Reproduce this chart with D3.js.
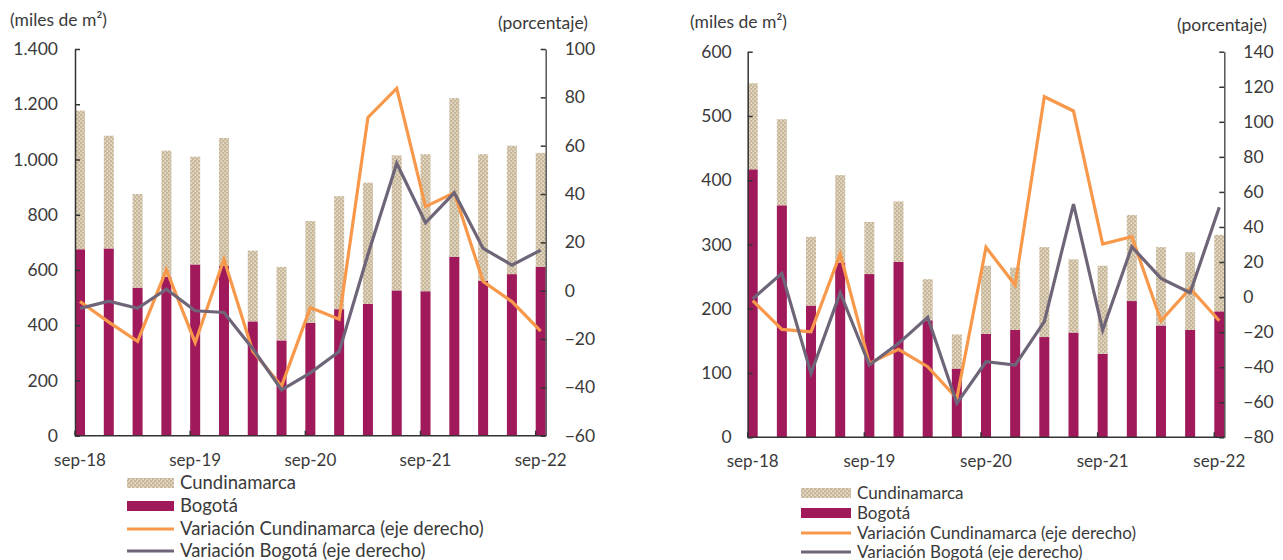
<!DOCTYPE html>
<html><head><meta charset="utf-8">
<script src="https://cdn.jsdelivr.net/npm/d3@7/dist/d3.min.js"></script>
<style>
html,body{margin:0;padding:0;background:#fff;}
text{font-family:Lato,"Open Sans",sans-serif;fill:#3a3a3a;}
</style></head>
<body><svg id="chart" width="1283" height="560"></svg>
<script>
// ---------- DATA ----------
const quarters = ["sep-18","dic-18","mar-19","jun-19","sep-19","dic-19","mar-20","jun-20","sep-20","dic-20","mar-21","jun-21","sep-21","dic-21","mar-22","jun-22","sep-22"];
const xTickLabels = ["sep-18","sep-19","sep-20","sep-21","sep-22"];

// Left panel (miles de m2, porcentaje)
const bogotaL = [675,678,536,575,620,615,414,345,409,458,477,526,523,648,561,585,611];
const cundL   = [502,408,339,457,390,463,256,266,368,409,439,489,496,574,458,465,413];
const varCundL = [-4.5,-13,-21,8.6,-21.5,13,-25,-39.5,-7,-11.8,71.7,83.7,34.8,40.5,3.8,-4.5,-16.7];
const varBogL  = [-7.3,-4.3,-7.3,0.6,-8.3,-9,-24,-41,-34,-25.2,15,52.7,28.1,40.5,17.5,10.6,16.8];
const leftTicksL = [0,200,400,600,800,1000,1200,1400];
const rightTicksL = [-60,-40,-20,0,20,40,60,80,100];

// Right panel
const bogotaR = [417,361,205,272,254,273,182,107,161,167,156,163,130,212,174,167,196];
const cundR   = [134,134,107,136,81,94,64,53,106,97,140,114,137,134,122,121,119];
const varCundR = [-2,-18.4,-19.8,24.6,-37.8,-29.8,-39.7,-57.8,28.4,6.9,114.3,106.2,30.3,34.5,-13.5,4.9,-13.5];
const varBogR  = [-1,13.6,-43.5,2.5,-38.8,-26.4,-11.5,-60.6,-36.9,-38.8,-14,53.1,-18.8,28.7,10.7,2.5,51.2];
const leftTicksR = [0,100,200,300,400,500,600];
const rightTicksR = [-80,-60,-40,-20,0,20,40,60,80,100,120,140];

const seriesNames = ["Cundinamarca","Bogotá","Variación Cundinamarca (eje derecho)","Variación Bogotá (eje derecho)"];

// ---------- STYLE ----------
const C_TAN = "#c8b798", C_MAG = "#a0195b", C_ORA = "#f8984a", C_GRY = "#6f6578";
const fmt = d3.formatLocale({decimal:",", thousands:".", grouping:[3], currency:["$",""]}).format(",d");

const svg = d3.select("#chart");
const defs = svg.append("defs");
const pat = defs.append("pattern").attr("id","dots").attr("patternUnits","userSpaceOnUse")
  .attr("width",4).attr("height",4);
pat.append("rect").attr("width",4).attr("height",4).attr("fill",C_TAN);
pat.append("rect").attr("x",0.5).attr("y",0.5).attr("width",1.3).attr("height",1.3).attr("fill","#fff").attr("opacity",0.85);
pat.append("rect").attr("x",2.5).attr("y",2.5).attr("width",1.3).attr("height",1.3).attr("fill","#fff").attr("opacity",0.85);

function drawPanel(o){
  const g = svg.append("g");
  const x = d3.scalePoint().domain(quarters).range([o.x0+5, o.x1-5]);
  const yL = d3.scaleLinear().domain(o.leftDomain).range([o.yb, o.yt]);
  const yR = d3.scaleLinear().domain(o.rightDomain).range([o.yb, o.yt]);
  const bw = 10;

  const table = quarters.map((q,i)=>({q, Bogota:o.bog[i], Cund:o.cund[i]}));
  const stack = d3.stack().keys(["Bogota","Cund"])(table);

  stack.forEach((layer,li)=>{
    g.append("g").selectAll("rect").data(layer).join("rect")
      .attr("x", d=>x(d.data.q)-bw/2).attr("width", bw)
      .attr("y", d=>yL(d[1])).attr("height", d=>yL(d[0])-yL(d[1]))
      .attr("fill", li===0 ? C_MAG : "url(#dots)");
  });

  const line = d3.line().x((d,i)=>x(quarters[i])).y(d=>yR(d));
  g.append("path").datum(o.varCund).attr("d",line).attr("fill","none")
    .attr("stroke",C_ORA).attr("stroke-width",3.2).attr("stroke-linejoin","miter");
  g.append("path").datum(o.varBog).attr("d",line).attr("fill","none")
    .attr("stroke",C_GRY).attr("stroke-width",3.2).attr("stroke-linejoin","miter");

  // axes
  const axL = g.append("g").attr("transform",`translate(${o.x0},0)`)
    .call(d3.axisLeft(yL).tickValues(o.leftTicks).tickFormat(fmt).tickSize(-5).tickSizeOuter(0).tickPadding(o.padL));
  const axR = g.append("g").attr("transform",`translate(${o.x1},0)`)
    .call(d3.axisRight(yR).tickValues(o.rightTicks).tickFormat(d3.format("d")).tickSize(-5).tickSizeOuter(0).tickPadding(o.padR));
  [axL,axR].forEach(a=>{
    a.selectAll("text").attr("font-size",17.5).attr("font-family","Lato");
    a.select(".domain").attr("stroke","#333").attr("stroke-width",1.5);
    a.selectAll(".tick line").attr("stroke","#333").attr("stroke-width",1.5);
  });
  axR.select(".domain").attr("stroke","#555");

  // x axis
  const xb = g.append("g");
  xb.append("line").attr("x1",o.x0).attr("x2",o.x1).attr("y1",o.yb).attr("y2",o.yb)
    .attr("stroke","#333").attr("stroke-width",1.5);
  xb.selectAll("line.t").data(xTickLabels).join("line").attr("class","t")
    .attr("x1",d=>x(d)-bw/2).attr("x2",d=>x(d)-bw/2).attr("y1",o.yb).attr("y2",o.yb-5)
    .attr("stroke","#333").attr("stroke-width",1.5);
  xb.selectAll("text").data(xTickLabels).join("text")
    .attr("x",d=>x(d)).attr("y",o.yb+30).attr("text-anchor","middle").attr("font-size",17)
    .text(d=>d);

  // titles
  g.append("text").attr("x",o.titleLx).attr("y",o.titleY).attr("font-size",17.5).text("(miles de m²)");
  g.append("text").attr("x",o.titleRx).attr("y",o.titleY+3).attr("font-size",17.5).attr("text-anchor","end").text("(porcentaje)");

  // legend
  const lg = g.append("g");
  seriesNames.forEach((n,i)=>{
    const yy = o.legY[i];
    if(i<2){
      lg.append("rect").attr("x",o.legX).attr("y",yy-5).attr("width",o.legW).attr("height",10)
        .attr("fill", i===0 ? "url(#dots)" : C_MAG);
    } else {
      lg.append("line").attr("x1",o.legX).attr("x2",o.legX+o.legW).attr("y1",yy).attr("y2",yy)
        .attr("stroke", i===2 ? C_ORA : C_GRY).attr("stroke-width",3);
    }
    lg.append("text").attr("x",o.legX+o.legW+6).attr("y",yy+6).attr("font-size",o.legFont).text(n);
  });
}

drawPanel({x0:75, x1:545.7, yt:49, yb:435.7, leftDomain:[0,1400], rightDomain:[-60,100],
  bog:bogotaL, cund:cundL, varCund:varCundL, varBog:varBogL,
  leftTicks:leftTicksL, rightTicks:rightTicksL, padL:17, padR:19,
  titleLx:10, titleRx:588, titleY:26, legX:127, legW:47, legFont:18.5, legY:[483,506,529,551]});

drawPanel({x0:747.7, x1:1224.3, yt:51.7, yb:437.3, leftDomain:[0,600], rightDomain:[-80,140],
  bog:bogotaR, cund:cundR, varCund:varCundR, varBog:varBogR,
  leftTicks:leftTicksR, rightTicks:rightTicksR, padL:16, padR:19,
  titleLx:690, titleRx:1267, titleY:28, legX:801, legW:50, legFont:17, legY:[493,513,533,552]});
</script></body></html>
